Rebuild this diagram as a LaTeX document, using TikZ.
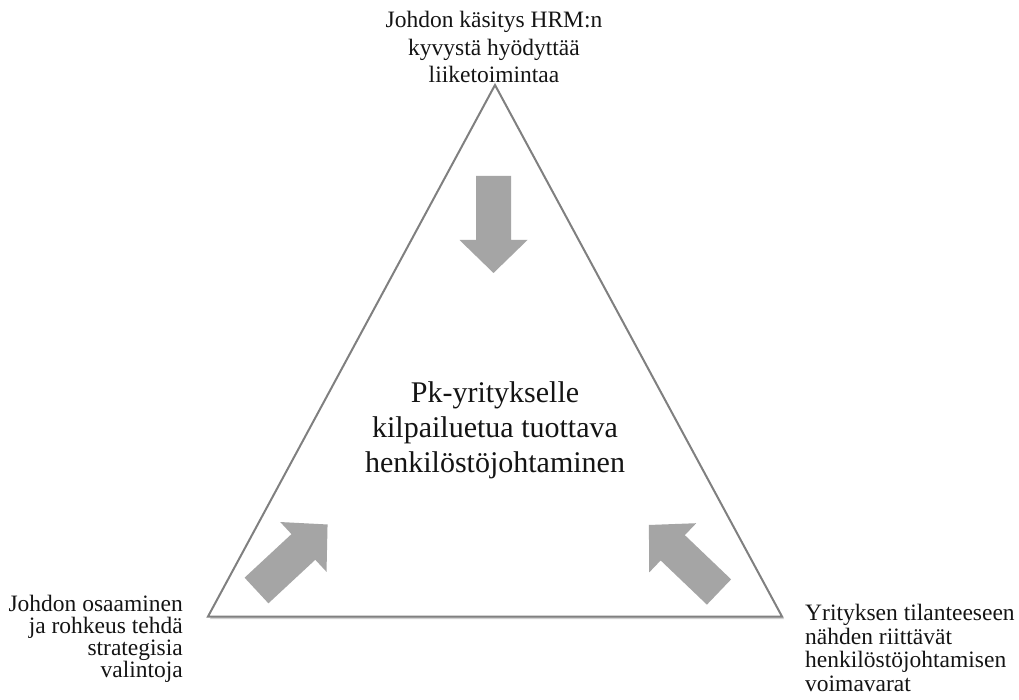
\documentclass[tikz,border=0pt]{standalone}
\usepackage{fontspec}
\setmainfont{Liberation Serif}
\usetikzlibrary{shadows}

\definecolor{edgegray}{RGB}{128,128,128}
\definecolor{arrowgray}{RGB}{165,165,165}
\definecolor{inkblack}{RGB}{20,20,20}

\tikzset{
  label/.style={inner sep=0pt, text=inkblack, font=\fontsize{23.5}{27.5}\selectfont},
  centre/.style={inner sep=0pt, text=inkblack, align=center, font=\fontsize{30}{35}\selectfont},
  frame/.style={draw=edgegray, line width=2pt, line join=miter, fill=white,
    drop shadow={shadow xshift=2pt, shadow yshift=-2.5pt, fill=black, opacity=0.18}},
  blockarrow/.pic={
    \fill[arrowgray] (0,-17.5) -- (64,-17.5) -- (64,-34) -- (97,0)
      -- (64,34) -- (64,17.5) -- (0,17.5) -- cycle;
  }
}

\begin{document}
\begin{tikzpicture}[x=1pt, y=-1pt]
  \useasboundingbox (0,0) rectangle (1019,700);

  % corners of the triangle
  \coordinate (apex) at (495,85);
  \coordinate (left) at (208,616.5);
  \coordinate (right) at (782,616.5);

  \path[frame] (apex) -- (left) -- (right) -- cycle;

  % block arrows pointing inwards
  \coordinate (tailtop) at (493.5,176);
  \coordinate (tailleft) at (256.5,590.5);
  \coordinate (tailright) at (719,592);
  \pic[rotate=-90] at (tailtop) {blockarrow};
  \pic[rotate=42.9] at (tailleft) {blockarrow};
  \pic[rotate=136.3] at (tailright) {blockarrow};

  % texts
  \node[centre, anchor=north] (core) at (495,381.5)
    {Pk-yritykselle\\kilpailuetua tuottava\\henkilöstöjohtaminen};
  \node[label, align=center, anchor=north] (toplabel) at (494,11)
    {Johdon käsitys HRM:n\\kyvystä hyödyttää\\liiketoimintaa};
  \node[label, align=right, anchor=north east,
        font=\fontsize{23.5}{22}\selectfont] (leftlabel) at (183,595)
    {Johdon osaaminen\\ja rohkeus tehdä\\strategisia\\valintoja};
  \node[label, align=left, anchor=north west,
        font=\fontsize{23.5}{23.7}\selectfont] (rightlabel) at (805,604)
    {Yrityksen tilanteeseen\\nähden riittävät\\henkilöstöjohtamisen\\voimavarat};
\end{tikzpicture}
\end{document}
